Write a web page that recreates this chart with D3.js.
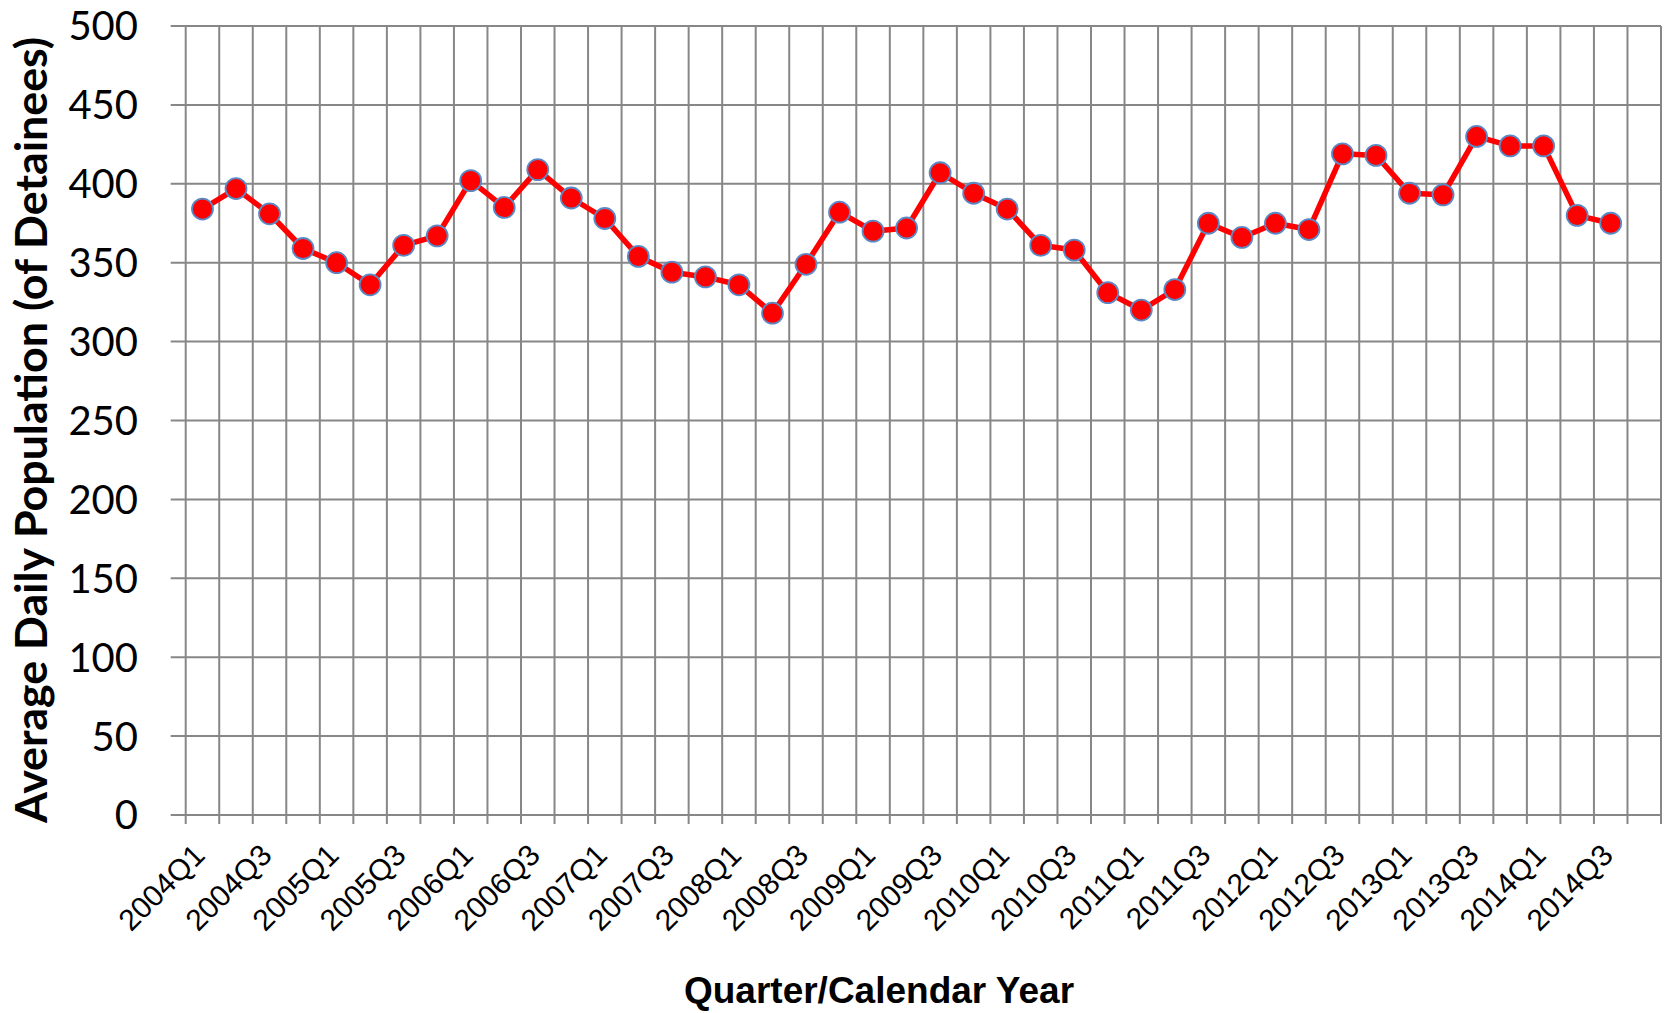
<!DOCTYPE html>
<html lang="en">
<head>
<meta charset="utf-8">
<title>Average Daily Population</title>
<script src="https://d3js.org/d3.v7.min.js"></script>
<style>
    body { margin: 0; background: #fff; }
    .grid line { stroke: #878787; stroke-width: 2; }
    .ylab text { font-family: Lato, "Open Sans", sans-serif; font-size: 40px; fill: #000; }
    .xlab text { font-family: "Liberation Sans", Arial, sans-serif; font-size: 30px; fill: #000; }
    path.line { fill: none; stroke: #ff0000; stroke-width: 5.5; stroke-linejoin: round; }
    circle.dot { fill: #ff0000; stroke: #5a8ac6; stroke-width: 1.8; }
</style>
</head>
<body>
<div id="chart"></div>
<script>

// quarters on the category axis (last slot has no value)
const quarters = [
    "2004Q1","2004Q2","2004Q3","2004Q4","2005Q1","2005Q2","2005Q3","2005Q4",
    "2006Q1","2006Q2","2006Q3","2006Q4","2007Q1","2007Q2","2007Q3","2007Q4",
    "2008Q1","2008Q2","2008Q3","2008Q4","2009Q1","2009Q2","2009Q3","2009Q4",
    "2010Q1","2010Q2","2010Q3","2010Q4","2011Q1","2011Q2","2011Q3","2011Q4",
    "2012Q1","2012Q2","2012Q3","2012Q4","2013Q1","2013Q2","2013Q3","2013Q4",
    "2014Q1","2014Q2","2014Q3","2014Q4"
];

// average daily population
const population = [
    384, 397, 381, 359, 350, 336, 361, 367,
    402, 385, 409, 391, 378, 354, 344, 341,
    336, 318, 349, 382, 370, 372, 407, 394,
    384, 361, 358, 331, 320, 333, 375, 366,
    375, 371, 419, 418, 394, 393, 430, 424,
    424, 380, 375
];

const yTicks = [0, 50, 100, 150, 200, 250, 300, 350, 400, 450, 500];

const width = 1665, height = 1013;
const plot = {left: 185.7, right: 1661, top: 26, bottom: 815};

const svg = d3.select("#chart").append("svg")
    .attr("width", width)
    .attr("height", height);

const x = d3.scaleBand()
    .domain(quarters)
    .range([plot.left, plot.right])
    .padding(0);

const y = d3.scaleLinear()
    .domain([0, 500])
    .range([plot.bottom, plot.top]);

// horizontal gridlines, with the outside tick on the left
const grid = svg.append("g").attr("class", "grid");
grid.selectAll("line.h")
    .data(yTicks)
    .join("line")
    .attr("class", "h")
    .attr("x1", plot.left - 15)
    .attr("x2", plot.right)
    .attr("y1", d => y(d))
    .attr("y2", d => y(d));

// vertical gridlines between categories, tick below the axis
const bounds = quarters.map(q => x(q)).concat([plot.right]);
grid.selectAll("line.v")
    .data(bounds)
    .join("line")
    .attr("class", "v")
    .attr("x1", d => d)
    .attr("x2", d => d)
    .attr("y1", plot.top)
    .attr("y2", plot.bottom + 9);

// y tick labels
svg.append("g").attr("class", "ylab")
    .selectAll("text")
    .data(yTicks)
    .join("text")
    .attr("x", 138)
    .attr("y", d => y(d))
    .attr("dy", "0.36em")
    .attr("text-anchor", "end")
    .text(d => d);

// x tick labels, every second quarter, rotated
const shown = quarters.filter((q, i) => i % 2 == 0);
svg.append("g").attr("class", "xlab")
    .selectAll("text")
    .data(shown)
    .join("text")
    .attr("text-anchor", "end")
    .attr("transform", d => "translate(" + (x(d) + x.bandwidth() / 2 + 4) + "," + (plot.bottom + 42) + ") rotate(-45)")
    .text(d => d);

// the series
const pts = population.map((v, i) => ({q: quarters[i], v: v}));
const line = d3.line()
    .x(d => x(d.q) + x.bandwidth() / 2)
    .y(d => y(d.v));

svg.append("path")
    .datum(pts)
    .attr("class", "line")
    .attr("d", line);

svg.append("g").selectAll("circle")
    .data(pts)
    .join("circle")
    .attr("class", "dot")
    .attr("cx", d => x(d.q) + x.bandwidth() / 2)
    .attr("cy", d => y(d.v))
    .attr("r", 10.5);

// axis titles
svg.append("text")
    .attr("transform", "translate(47,430) rotate(-90)")
    .attr("text-anchor", "middle")
    .attr("font-family", "Lato, 'Open Sans', sans-serif")
    .attr("font-weight", 700)
    .attr("font-size", "43px")
    .attr("textLength", 786)
    .attr("lengthAdjust", "spacingAndGlyphs")
    .text("Average Daily Population (of Detainees)");

svg.append("text")
    .attr("x", 879)
    .attr("y", 1003)
    .attr("text-anchor", "middle")
    .attr("font-family", "'Liberation Sans', Arial, sans-serif")
    .attr("font-weight", 700)
    .attr("font-size", "37px")
    .text("Quarter/Calendar Year");

</script>
</body>
</html>
